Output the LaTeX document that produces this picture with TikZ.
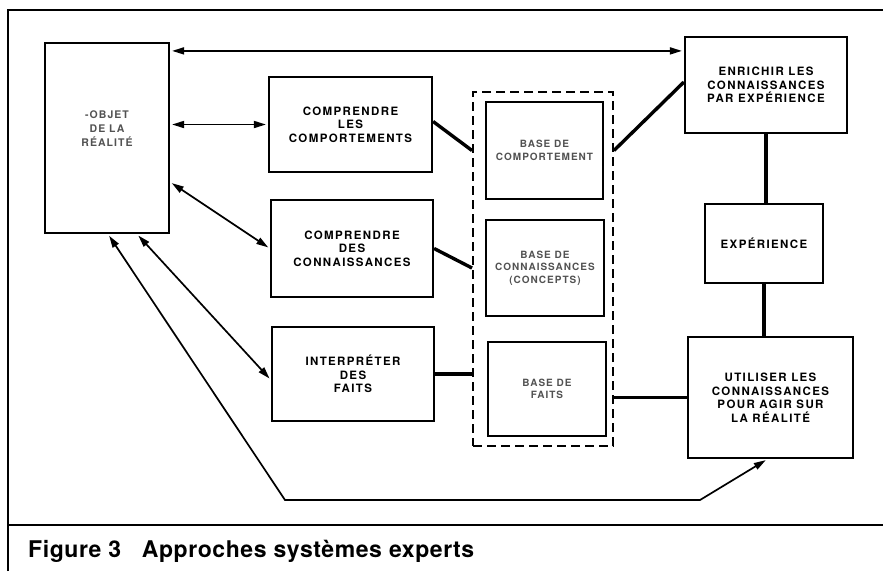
\documentclass[tikz,border=0pt]{standalone}
\usepackage{fontspec}
\setmainfont{TeX Gyre Heros}
\usetikzlibrary{arrows.meta}
\newfontfamily\boxbold[LetterSpace=12]{TeX Gyre Heros Bold}
\newfontfamily\boxlight[LetterSpace=10]{TeX Gyre Heros Bold}
\newfontfamily\captionfont[LetterSpace=2.5]{TeX Gyre Heros Bold}
\begin{document}
\begin{tikzpicture}[x=1pt,y=-1pt,
  frameline/.style={line width=1.8pt},
  boxstyle/.style={draw, line width=2.2pt, rectangle, align=center, inner sep=0pt},
  strong/.style={boxstyle, font=\boxbold\fontsize{11.5}{13.5}\selectfont},
  light/.style={boxstyle, font=\boxlight\fontsize{10}{12.5}\selectfont, text=black!68},
  link/.style={line width=3.4pt},
  twoway/.style={line width=1.7pt, {Triangle[length=12pt,width=7pt]}-{Triangle[length=12pt,width=7pt]}, shorten <=2pt, shorten >=2pt},
  dashbox/.style={draw, line width=2pt, dash pattern=on 9pt off 5pt, rectangle, inner sep=0pt}
]
\useasboundingbox (0,0) rectangle (883,571);

% page frame and caption rule
\draw[frameline] (8,571) -- (8,10) -- (883,10);
\draw[frameline] (8,525) -- (883,525);
\node[anchor=base west, font=\captionfont\fontsize{23}{25}\selectfont, inner sep=0pt] (caption) at (28,557)
  {Figure 3\hspace{0.9em}Approches systèmes experts};

% boxes
\node[light, font=\boxlight\fontsize{10.5}{14}\selectfont, minimum width=124pt, minimum height=190pt] (objet) at (107,138) {-OBJET\\DE LA\\RÉALITÉ\\[5pt]};
\node[strong, minimum width=163pt, minimum height=95pt] (comp1) at (350.5,124.5) {COMPRENDRE\\LES\\COMPORTEMENTS};
\node[strong, minimum width=162pt, minimum height=97pt] (comp2) at (352,248.5) {COMPRENDRE\\DES\\CONNAISSANCES};
\node[strong, minimum width=162pt, minimum height=94pt] (interp) at (353,374) {INTERPRÉTER\\DES\\FAITS};

\node[dashbox, minimum width=140pt, minimum height=354pt] (bases) at (543,269) {};
\node[light, minimum width=117pt, minimum height=97pt] (base1) at (544.5,150.5) {BASE DE\\COMPORTEMENT};
\node[light, minimum width=118pt, minimum height=96pt] (base2) at (545,268) {BASE DE\\CONNAISSANCES\\(CONCEPTS)};
\node[light, minimum width=118pt, minimum height=94pt] (base3) at (547,389) {BASE DE\\FAITS};

\node[strong, minimum width=162pt, minimum height=96pt] (enrichir) at (766,85) {ENRICHIR LES\\CONNAISSANCES\\PAR EXPÉRIENCE};
\node[strong, minimum width=118pt, minimum height=79pt] (exp) at (764,243.5) {EXPÉRIENCE};
\node[strong, minimum width=165pt, minimum height=121pt] (util) at (770.5,397.5) {UTILISER LES\\CONNAISSANCES\\POUR AGIR SUR\\LA RÉALITÉ};

% two-way arrows from the object of reality
\draw[twoway] ([yshift=-9pt]objet.north east) -- ([yshift=-15pt]enrichir.north west);
\draw[twoway] (objet.east |- comp1.west) -- (comp1.west);
\draw[twoway] ([yshift=-44pt]objet.east) -- (comp2.west);
\draw[twoway] ([xshift=30pt]objet.south) -- ([yshift=-6pt]interp.west);
\coordinate (c1) at (285,500);
\coordinate (c2) at (700,500);
\draw[twoway] ([xshift=1pt]objet.south) -- (c1) -- (c2) -- ([xshift=-3pt]util.south);

% heavy links
\draw[link] ([yshift=3pt]comp1.east) -- (bases.west |- base1);
\draw[link] (comp2.east) -- (bases.west |- base2);
\draw[link] (interp.east) -- (interp.east -| bases.west);
\draw[link] (bases.east |- base1) -- ([yshift=3pt]enrichir.west);
\draw[link] (util.west -| bases.east) -- (util.west);
\draw[link] (enrichir.south) -- (enrichir.south |- exp.north);
\draw[link] (exp.south) -- (exp.south |- util.north);
\end{tikzpicture}
\end{document}
